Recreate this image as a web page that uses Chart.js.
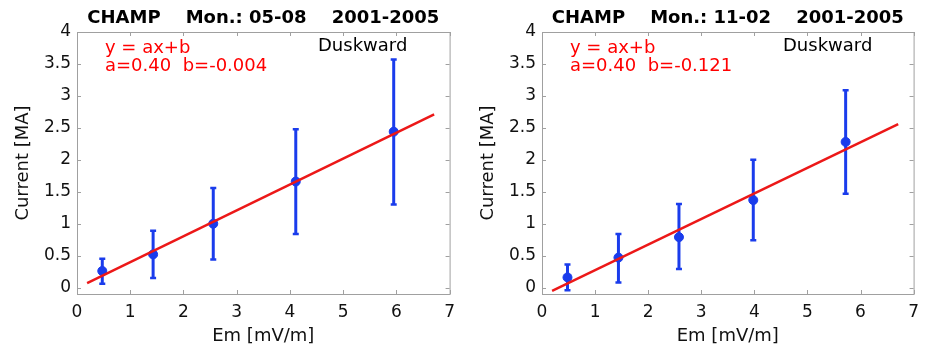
<!DOCTYPE html>
<html>
<head>
<meta charset="utf-8">
<script src="https://cdn.jsdelivr.net/npm/chart.js@4.4.1/dist/chart.umd.min.js"></script>
<style>
  body { margin: 0; background: #fff; }
  .panel { position: absolute; top: 0; }
</style>
</head>
<body>
<canvas id="left" class="panel" width="463" height="349" style="left:0"></canvas>
<canvas id="right" class="panel" width="462" height="349" style="left:465px"></canvas>
<script>
// tick labels
const xTicks = [0, 1, 2, 3, 4, 5, 6, 7];
const yTicks = [0, 0.5, 1, 1.5, 2, 2.5, 3, 3.5, 4];

// Mon.: 05-08
const emA = [0.475, 1.43, 2.56, 4.11, 5.95];
const curA = [0.26, 0.52, 1.0, 1.66, 2.44];
const hiA = [0.45, 0.89, 1.56, 2.48, 3.57];
const loA = [0.06, 0.15, 0.44, 0.84, 1.30];
const fitXA = [0.19, 6.71];
const fitYA = [0.07, 2.71];

// Mon.: 11-02
const emB = [0.48, 1.44, 2.58, 3.98, 5.72];
const curB = [0.16, 0.47, 0.79, 1.37, 2.28];
const hiB = [0.36, 0.84, 1.31, 2.0, 3.09];
const loB = [-0.04, 0.08, 0.29, 0.74, 1.47];
const fitXB = [0.19, 6.71];
const fitYB = [-0.05, 2.56];

const BLUE = 'rgb(26,60,236)';
const RED = 'rgb(236,24,24)';
const BOX = '#a0a0a0';
const FONT = '"DejaVu Sans", sans-serif';

Chart.defaults.font.family = FONT;
Chart.defaults.color = '#111';

const framePlugin = {
  id: 'frame',
  beforeDatasetsDraw(chart, args, opts) {
    const { ctx, scales: { x, y } } = chart;
    ctx.save();
    ctx.strokeStyle = BLUE;
    ctx.lineWidth = 3;
    opts.em.forEach((v, i) => {
      const px = x.getPixelForValue(v);
      const top = y.getPixelForValue(opts.hi[i]);
      const bot = y.getPixelForValue(opts.lo[i]);
      ctx.beginPath();
      ctx.moveTo(px, top); ctx.lineTo(px, bot);
      ctx.stroke();
      ctx.lineWidth = 2.5;
      ctx.beginPath();
      ctx.moveTo(px - 3, top); ctx.lineTo(px + 3, top);
      ctx.moveTo(px - 3, bot); ctx.lineTo(px + 3, bot);
      ctx.stroke();
      ctx.lineWidth = 3;
    });
    ctx.restore();
  },
  afterDraw(chart, args, opts) {
    const { ctx, chartArea: a, scales: { x, y } } = chart;
    ctx.save();
    // box and inward ticks
    ctx.strokeStyle = BOX;
    ctx.lineWidth = 1;
    ctx.strokeRect(a.left + 0.5, a.top + 0.5, a.right - a.left, a.bottom - a.top);
    ctx.beginPath();
    xTicks.forEach(v => {
      const px = Math.round(x.getPixelForValue(v)) + 0.5;
      ctx.moveTo(px, a.bottom); ctx.lineTo(px, a.bottom - 4);
      ctx.moveTo(px, a.top); ctx.lineTo(px, a.top + 4);
    });
    yTicks.forEach(v => {
      const py = Math.round(y.getPixelForValue(v)) + 0.5;
      ctx.moveTo(a.left, py); ctx.lineTo(a.left + 4, py);
      ctx.moveTo(a.right, py); ctx.lineTo(a.right - 4, py);
    });
    ctx.stroke();

    // title
    ctx.fillStyle = '#000';
    ctx.font = 'bold 18px ' + FONT;
    ctx.textAlign = 'center';
    ctx.textBaseline = 'alphabetic';
    ctx.fillText(opts.title, (a.left + a.right) / 2, 23);

    // annotations
    ctx.textAlign = 'left';
    ctx.font = '18px ' + FONT;
    ctx.fillText('Duskward', a.left + 241, 51);
    ctx.fillStyle = 'rgb(255,0,0)';
    ctx.fillText('y = ax+b', a.left + 28, 52.5);
    ctx.fillText(opts.coef, a.left + 28, 70.5);
    ctx.restore();
  }
};

function makeChart(id, title, coef, em, cur, lo, hi, fitX, fitY, padRight) {
  const ctx = document.getElementById(id).getContext('2d');
  return new Chart(ctx, {
    type: 'scatter',
    data: {
      datasets: [
        {
          label: 'fit',
          data: fitX.map((v, i) => ({ x: v, y: fitY[i] })),
          showLine: true,
          borderColor: RED,
          borderWidth: 2.5,
          pointRadius: 0,
          order: 0
        },
        {
          label: 'mean',
          data: em.map((v, i) => ({ x: v, y: cur[i] })),
          backgroundColor: BLUE,
          borderColor: BLUE,
          pointRadius: 4.5,
          order: 1
        }
      ]
    },
    options: {
      responsive: false,
      animation: false,
      devicePixelRatio: 1,
      layout: { padding: { left: 0, right: padRight, top: 32, bottom: 0 } },
      plugins: {
        legend: { display: false },
        tooltip: { enabled: false },
        title: { display: false },
        frame: { title, coef, em, lo, hi }
      },
      scales: {
        x: {
          type: 'linear',
          min: 0,
          max: 7,
          grid: { display: false, drawTicks: false },
          border: { display: false },
          afterBuildTicks: s => { s.ticks = xTicks.map(v => ({ value: v })); },
          afterFit: s => { s.height = 55; },
          ticks: { font: { size: 17 }, color: '#111', padding: 8, maxRotation: 0, callback: v => String(v) },
          title: { display: true, text: 'Em [mV/m]', font: { size: 18 }, color: '#111', padding: 2 }
        },
        y: {
          type: 'linear',
          min: -0.1,
          max: 4,
          grid: { display: false, drawTicks: false },
          border: { display: false },
          afterBuildTicks: s => { s.ticks = yTicks.map(v => ({ value: v })); },
          afterFit: s => { s.width = 77; },
          ticks: { font: { size: 17 }, color: '#111', padding: 6, callback: v => String(v) },
          title: { display: true, text: 'Current [MA]', font: { size: 18 }, color: '#111', padding: 13 }
        }
      }
    },
    plugins: [framePlugin]
  });
}

makeChart('left', 'CHAMP    Mon.: 05-08    2001-2005', 'a=0.40  b=-0.004',
  emA, curA, loA, hiA, fitXA, fitYA, 12);
makeChart('right', 'CHAMP    Mon.: 11-02    2001-2005', 'a=0.40  b=-0.121',
  emB, curB, loB, hiB, fitXB, fitYB, 11);
</script>
</body>
</html>
